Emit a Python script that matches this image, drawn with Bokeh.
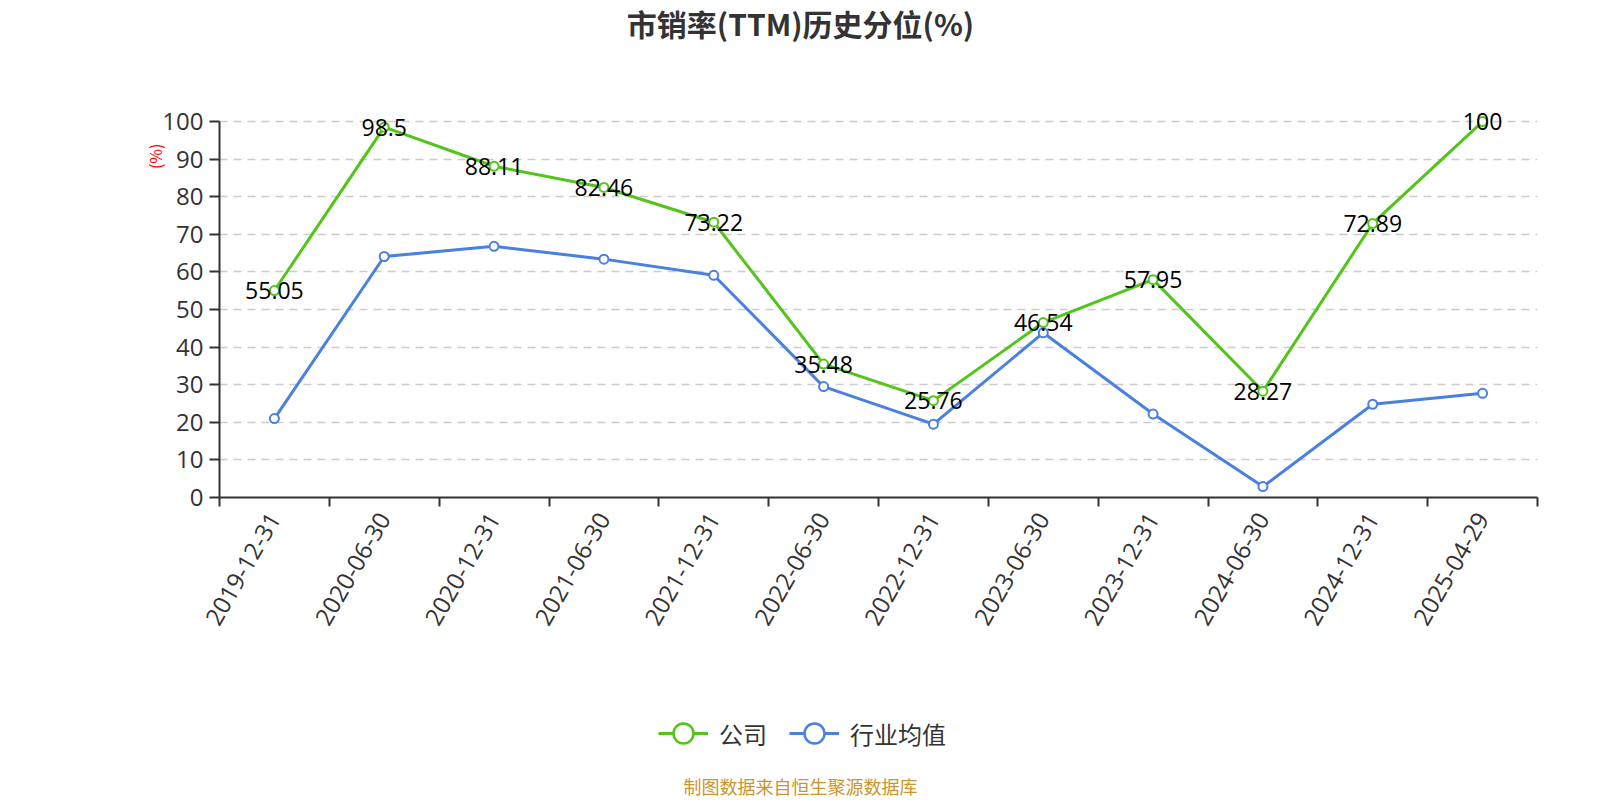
import math
from bokeh.plotting import figure
from bokeh.layouts import column
from bokeh.models import (Range1d, FixedTicker, Title, Label, LabelSet,
                          ColumnDataSource, Legend, LegendItem)
from bokeh.core.properties import value
from bokeh.embed import file_html
from bokeh.resources import INLINE

dates = ["2019-12-31", "2020-06-30", "2020-12-31", "2021-06-30", "2021-12-31",
         "2022-06-30", "2022-12-31", "2023-06-30", "2023-12-31", "2024-06-30",
         "2024-12-31", "2025-04-29"]
company = [55.05, 98.5, 88.11, 82.46, 73.22, 35.48, 25.76, 46.54, 57.95, 28.27, 72.89, 100]
industry = [21.0, 64.1, 66.8, 63.4, 59.1, 29.5, 19.5, 43.8, 22.2, 2.9, 24.8, 27.7]
y_ticks = list(range(0, 101, 10))
series_names = ["公司", "行业均值"]
title_text = "市销率(TTM)历史分位(%)"
source_text = "制图数据来自恒生聚源数据库"

GREEN = "#52c41a"
BLUE = "#4a80e0"
TXT = "#333333"
CJK = "Noto Sans CJK SC"
NUM = "Open Sans"
W = 1600
LEFT, RIGHT = 219, 63


def blank(height):
    f = figure(width=W, height=height, output_backend="svg", toolbar_location=None,
               x_range=Range1d(0, 1), y_range=Range1d(0, 1),
               x_axis_location=None, y_axis_location=None,
               min_border_left=LEFT, min_border_right=RIGHT, min_border_top=0,
               min_border_bottom=0)
    f.outline_line_color = None
    f.xgrid.visible = False
    f.ygrid.visible = False
    return f


# ---- title strip
top = blank(64)
top.add_layout(Label(x=800 - LEFT, y=42, x_units="screen", y_units="screen",
                     text=title_text, text_align="center", text_baseline="middle",
                     text_font=CJK, text_font_size="30px", text_font_style="bold",
                     text_color=TXT))

# ---- main chart
xs = [i + 0.5 for i in range(len(dates))]
src = ColumnDataSource(dict(x=xs, company=company, industry=industry,
                            lab=[f"{v:g}" for v in company]))

p = figure(width=W, height=606, output_backend="svg", toolbar_location=None,
           x_range=Range1d(0, len(dates)), y_range=Range1d(0, 104),
           min_border_left=LEFT, min_border_right=RIGHT, min_border_top=42,
           min_border_bottom=173)
p.outline_line_color = None

xa = p.xaxis[0]
xa.ticker = FixedTicker(ticks=xs, minor_ticks=list(range(len(dates) + 1)))
xa.major_label_overrides = {x: d for x, d in zip(xs, dates)}
xa.major_label_orientation = math.pi / 3
xa.major_tick_line_color = None
xa.minor_tick_line_color = TXT
xa.minor_tick_line_width = 2
xa.minor_tick_out = 9
xa.minor_tick_in = 0
xa.axis_line_color = TXT
xa.axis_line_width = 2
xa.major_label_text_font = NUM
xa.major_label_text_font_size = "24px"
xa.major_label_text_color = TXT
xa.major_label_standoff = 8

ya = p.yaxis[0]
ya.ticker = FixedTicker(ticks=y_ticks)
ya.bounds = (0, 100)
ya.axis_line_color = TXT
ya.axis_line_width = 2
ya.major_tick_line_color = TXT
ya.major_tick_line_width = 2
ya.major_tick_out = 10
ya.major_tick_in = 0
ya.minor_tick_line_color = None
ya.major_label_text_font = NUM
ya.major_label_text_font_size = "24px"
ya.major_label_text_color = TXT
ya.major_label_standoff = 6

p.xgrid.grid_line_color = None
p.ygrid.ticker = FixedTicker(ticks=y_ticks[1:])
p.ygrid.bounds = (0, 100)
p.ygrid.grid_line_color = "#cccccc"
p.ygrid.grid_line_dash = "8 6"
p.ygrid.grid_line_width = 1.5

p.line("x", "company", source=src, line_color=GREEN, line_width=3)
p.scatter("x", "company", source=src, size=9, fill_color="white",
          line_color=GREEN, line_width=2)
p.line("x", "industry", source=src, line_color=BLUE, line_width=3)
p.scatter("x", "industry", source=src, size=9, fill_color="white",
          line_color=BLUE, line_width=2)

p.add_layout(LabelSet(x="x", y="company", text="lab", source=src,
                      text_align="center", text_baseline="middle",
                      text_font=value(NUM), text_font_size="23px",
                      text_color="black"))

p.add_layout(Title(text="(%)", align="right", offset=37, standoff=-14,
                   text_font=CJK, text_font_size="16px", text_color="red",
                   text_font_style="normal"), "left")

# ---- legend + source strip (hidden copies of the series feed the legend glyphs)
bot = blank(130)
items = []
for name, col, field in zip(series_names, [GREEN, BLUE], ["company", "industry"]):
    ln = bot.line("x", field, source=src, line_color=col, line_width=3, visible=False)
    sc = bot.scatter("x", field, source=src, fill_color="white", line_color=col,
                     line_width=2.5, visible=False)
    items.append(LegendItem(label=name, renderers=[ln, sc]))
bot.add_layout(Legend(items=items, orientation="horizontal", location=(658 - LEFT, 42),
                      glyph_width=50, glyph_height=50, label_standoff=11,
                      spacing=22, padding=0, margin=0, border_line_color=None,
                      background_fill_alpha=0, label_text_font=CJK,
                      label_text_font_size="24px", label_text_color=TXT))
bot.add_layout(Label(x=800 - LEFT, y=15, x_units="screen", y_units="screen",
                     text=source_text, text_align="center", text_baseline="middle",
                     text_font=CJK, text_font_size="18px", text_color="#c9952f"))

layout = column(top, p, bot, spacing=0)
open("out.html", "w").write(file_html(layout, INLINE))
